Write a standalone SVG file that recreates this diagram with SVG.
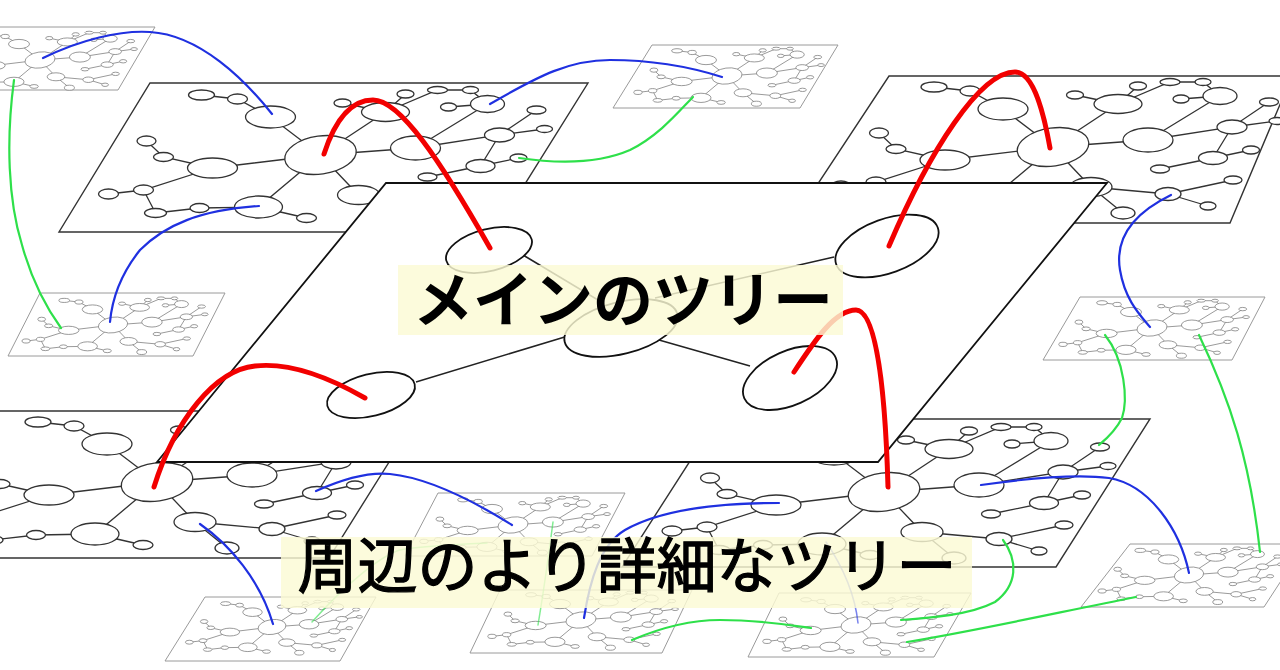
<svg xmlns="http://www.w3.org/2000/svg" xmlns:xlink="http://www.w3.org/1999/xlink" width="1280" height="670" viewBox="0 0 1280 670">
<style>
.bigp{fill:#fff;stroke:#333;stroke-width:1.4}
.smallp{fill:#fff;stroke:#9a9a9a;stroke-width:1}
.bigt{stroke:#333;stroke-width:1.3}
.smallt{stroke:#808080;stroke-width:0.8}
.main{fill:#fff;stroke:#111;stroke-width:1.8}
.mn{fill:#fff;stroke:#111;stroke-width:1.8}
.ml{stroke:#222;stroke-width:1.5;fill:none}
.red{fill:none;stroke:#f20000;stroke-width:5;stroke-linecap:round}
.blue{fill:none;stroke:#1f30e0;stroke-width:2.2;stroke-linecap:round}
.green{fill:none;stroke:#2ee04a;stroke-width:2.2;stroke-linecap:round}
.faint{opacity:0.6;stroke-width:1.5}
.band{fill:#fbfad4;opacity:0.82}
.lbl{font-family:"Noto Sans CJK JP","Noto Sans",sans-serif;font-size:60px;fill:#000;text-anchor:middle}
.lbl2{stroke:#000;stroke-width:1.3}
</style>
<defs>
<g id="tree">
<path fill="none" vector-effect="non-scaling-stroke" d="M0,0 L-50,-38 L-83,-56 L-119,-60 M0,0 L-108,13 L-157,2 L-174,-14 M-108,13 L-177,35 L-212,39 M-177,35 L-165,58 M0,0 L-62,52 L-121,53 L-165,58 M-62,52 L-14,63 M0,0 L38,40 L115,47 L180,33 M115,47 L155,59 M38,40 L70,66 M0,0 L95,-7 L179,-20 L216,-45 M179,-20 L224,-26 M179,-20 L160,11 L198,3 M160,11 L107,22 M95,-7 L167,-51 L150,-65 L117,-65 L65,-43 M0,0 L65,-43 L85,-61 M65,-43 L22,-52 M167,-51 L128,-48"/>
<g fill="#fff">
<ellipse vector-effect="non-scaling-stroke" cx="0" cy="0" rx="36" ry="19" transform="rotate(-8)"/>
<ellipse vector-effect="non-scaling-stroke" cx="-50" cy="-38" rx="25" ry="11"/>
<ellipse vector-effect="non-scaling-stroke" cx="-83" cy="-56" rx="10" ry="5"/>
<ellipse vector-effect="non-scaling-stroke" cx="-119" cy="-60" rx="13" ry="5"/>
<ellipse vector-effect="non-scaling-stroke" cx="-108" cy="13" rx="25" ry="10"/>
<ellipse vector-effect="non-scaling-stroke" cx="-157" cy="2" rx="10" ry="4.5"/>
<ellipse vector-effect="non-scaling-stroke" cx="-174" cy="-14" rx="9.5" ry="5"/>
<ellipse vector-effect="non-scaling-stroke" cx="-177" cy="35" rx="10" ry="5"/>
<ellipse vector-effect="non-scaling-stroke" cx="-212" cy="39" rx="10" ry="5"/>
<ellipse vector-effect="non-scaling-stroke" cx="-165" cy="58" rx="11" ry="4.5"/>
<ellipse vector-effect="non-scaling-stroke" cx="-62" cy="52" rx="24" ry="11"/>
<ellipse vector-effect="non-scaling-stroke" cx="-121" cy="53" rx="9.5" ry="4.5"/>
<ellipse vector-effect="non-scaling-stroke" cx="-14" cy="63" rx="10" ry="4.5"/>
<ellipse vector-effect="non-scaling-stroke" cx="38" cy="40" rx="21" ry="9.5"/>
<ellipse vector-effect="non-scaling-stroke" cx="115" cy="47" rx="13" ry="6.5"/>
<ellipse vector-effect="non-scaling-stroke" cx="70" cy="66" rx="12" ry="6"/>
<ellipse vector-effect="non-scaling-stroke" cx="180" cy="33" rx="9" ry="4"/>
<ellipse vector-effect="non-scaling-stroke" cx="155" cy="59" rx="8" ry="4"/>
<ellipse vector-effect="non-scaling-stroke" cx="95" cy="-7" rx="25" ry="12"/>
<ellipse vector-effect="non-scaling-stroke" cx="65" cy="-43" rx="24" ry="9.5"/>
<ellipse vector-effect="non-scaling-stroke" cx="85" cy="-61" rx="8.5" ry="4"/>
<ellipse vector-effect="non-scaling-stroke" cx="22" cy="-52" rx="8.5" ry="4"/>
<ellipse vector-effect="non-scaling-stroke" cx="167" cy="-51" rx="17" ry="8.5"/>
<ellipse vector-effect="non-scaling-stroke" cx="117" cy="-65" rx="10" ry="3.5"/>
<ellipse vector-effect="non-scaling-stroke" cx="150" cy="-65" rx="8" ry="3.5"/>
<ellipse vector-effect="non-scaling-stroke" cx="128" cy="-48" rx="8" ry="4"/>
<ellipse vector-effect="non-scaling-stroke" cx="179" cy="-20" rx="15" ry="7"/>
<ellipse vector-effect="non-scaling-stroke" cx="216" cy="-45" rx="9.5" ry="4"/>
<ellipse vector-effect="non-scaling-stroke" cx="224" cy="-26" rx="8" ry="3.5"/>
<ellipse vector-effect="non-scaling-stroke" cx="160" cy="11" rx="14.5" ry="6.5"/>
<ellipse vector-effect="non-scaling-stroke" cx="198" cy="3" rx="8.5" ry="4"/>
<ellipse vector-effect="non-scaling-stroke" cx="107" cy="22" rx="9.5" ry="4"/>
</g>
</g>
</defs>

<!-- big surrounding panels -->
<g id="panel-top-left-big">
<polygon class="bigp" points="150,83 588,83 495,232 59,232"/>
<use href="#tree" class="bigt" transform="translate(320.5,155)"/>
</g>
<g id="panel-top-right-big">
<polygon class="bigp" points="889,76 1292,76 1230,223 792,223"/>
<use href="#tree" class="bigt" transform="translate(1053,147)"/>
</g>
<g id="panel-bottom-left-big">
<polygon class="bigp" points="-20,411 421,411 329,558 -20,558"/>
<use href="#tree" class="bigt" transform="translate(157,482)"/>
</g>
<g id="panel-bottom-right-big">
<polygon class="bigp" points="717,419 1150,419 1056,567 622,567"/>
<use href="#tree" class="bigt" transform="translate(884,492)"/>
</g>

<!-- small panels -->
<g id="panel-s1">
<polygon class="smallp" points="-31,27 155,27 118,90 -70,90"/>
<use href="#tree" class="smallt" transform="translate(40,60) scale(0.42)"/>
</g>
<g id="panel-s2">
<polygon class="smallp" points="652,45 838,45 800,108 613,108"/>
<use href="#tree" class="smallt" transform="translate(727,76) scale(0.42)"/>
</g>
<g id="panel-s3">
<polygon class="smallp" points="40,293 225,293 193,356 8,356"/>
<use href="#tree" class="smallt" transform="translate(113,325) scale(0.41)"/>
</g>
<g id="panel-s4">
<polygon class="smallp" points="1080,297 1265,297 1232,360 1043,360"/>
<use href="#tree" class="smallt" transform="translate(1152,328) scale(0.42)"/>
</g>
<g id="panel-s5">
<polygon class="smallp" points="1130,544 1305,544 1264,607 1081,607"/>
<use href="#tree" class="smallt" transform="translate(1189,575) scale(0.41)"/>
</g>
<g id="panel-s6">
<polygon class="smallp" points="779,593 971,593 934,657 748,657"/>
<use href="#tree" class="smallt" transform="translate(856,625) scale(0.42)"/>
</g>
<g id="panel-s7">
<polygon class="smallp" points="438,493 625,493 592,556 405,556"/>
<use href="#tree" class="smallt" transform="translate(513,525) scale(0.42)"/>
</g>
<g id="panel-s8">
<polygon class="smallp" points="500,590 692,590 662,653 470,653"/>
<use href="#tree" class="smallt" transform="translate(581,620) scale(0.42)"/>
</g>
<g id="panel-s9">
<polygon class="smallp" points="205,597 376,597 340,661 165,661"/>
<use href="#tree" class="smallt" transform="translate(272,627) scale(0.39)"/>
</g>

<!-- main tree -->
<g id="main-panel">
<polygon class="main" points="386,183 1107,183 878,462 157,462"/>
<path class="ml" d="M523,255 L598,300 M655,298 L834,257 M416,382 L568,336 M652,338 L750,366"/>
</g>
<g id="main-node-a"><ellipse class="mn" cx="489" cy="250" rx="44" ry="21" transform="rotate(-14 489 250)"/></g>
<g id="main-node-b"><ellipse class="mn" cx="887" cy="246" rx="54" ry="27" transform="rotate(-20 887 246)"/></g>
<g id="main-node-c"><ellipse class="mn" cx="621" cy="328" rx="58" ry="26" transform="rotate(-14 621 328)"/></g>
<g id="main-node-d"><ellipse class="mn" cx="371" cy="395" rx="45" ry="21" transform="rotate(-14 371 395)"/></g>
<g id="main-node-e"><ellipse class="mn" cx="790" cy="378" rx="50" ry="27" transform="rotate(-24 790 378)"/></g>

<!-- connectors -->
<g id="connectors">
<path class="green" d="M14,80 C6,140 8,200 22,245 C33,285 48,310 61,328"/>
<path class="green" d="M519,158 C560,164 600,163 630,150 C660,135 680,110 693,97"/>
<path class="green" d="M1105,335 C1125,360 1128,400 1122,418 C1115,432 1105,440 1099,445"/>
<path class="green" d="M1199,335 C1230,400 1250,460 1260,552"/>
<path class="green" d="M1003,540 C1018,560 1018,585 995,602 C970,615 930,618 901,620"/>
<path class="green" d="M1136,597 C1060,612 980,630 907,642"/>
<path class="green" d="M632,640 C660,628 690,620 720,620 C760,620 790,625 811,628"/>
<path class="green faint" d="M553,522 C548,560 543,595 538,625"/>
<path class="green faint" d="M487,543 C450,545 420,546 400,550 C380,556 345,585 312,622"/>

<path class="blue" d="M43,58 C80,40 120,30 150,32 C200,35 245,80 272,114"/>
<path class="blue" d="M259,206 C200,210 165,225 140,250 C120,275 112,300 110,322"/>
<path class="blue" d="M490,104 C540,75 570,60 610,60 C660,60 700,70 722,77"/>
<path class="blue" d="M1171,195 C1130,215 1115,240 1120,270 C1125,300 1140,315 1150,327"/>
<path class="blue" d="M316,491 C345,478 370,472 390,474 C430,478 480,505 512,525"/>
<path class="blue" d="M200,524 C230,545 260,580 273,624"/>
<path class="blue" d="M584,618 C590,580 600,545 625,530 C660,510 720,503 779,503"/>
<path class="blue" d="M981,485 C1030,478 1080,474 1109,478 C1150,485 1180,530 1189,573"/>
<path class="blue faint" d="M826,542 C845,570 855,595 858,623"/>

<path class="red" d="M324,154 C335,120 350,100 373,100 C400,100 440,160 490,248"/>
<path class="red" d="M889,246 C930,150 980,72 1015,72 C1035,72 1045,120 1050,148"/>
<path class="red" d="M365,398 C330,378 290,362 255,366 C215,370 175,420 154,487"/>
<path class="red" d="M794,372 C815,340 835,310 856,310 C875,310 885,380 888,487"/>
</g>

<!-- labels -->
<g id="label-main">
<rect class="band" x="398" y="265" width="445" height="70"/>
<text class="lbl" x="623" y="322" font-weight="bold">メインのツリー</text>
</g>
<g id="label-detail">
<rect class="band" x="281" y="537" width="691" height="71"/>
<text class="lbl lbl2" x="627" y="588">周辺のより詳細なツリー</text>
</g>
</svg>
